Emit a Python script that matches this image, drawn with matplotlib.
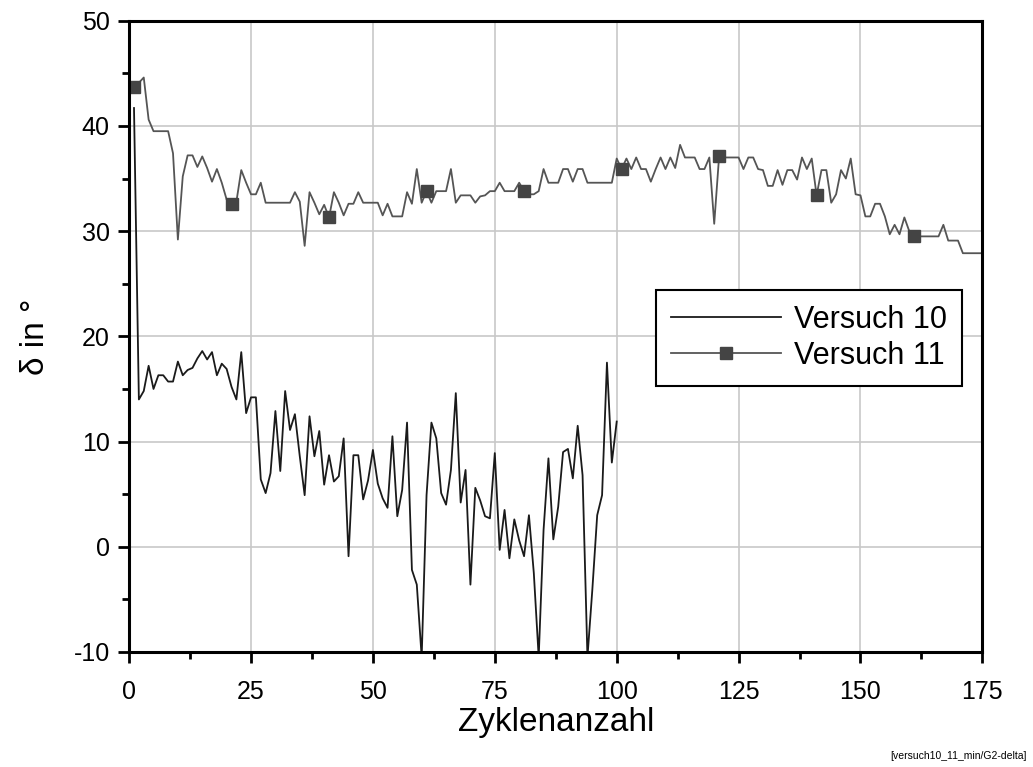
import numpy as np
import matplotlib
matplotlib.use("Agg")
import matplotlib.pyplot as plt
from matplotlib.ticker import MultipleLocator

plt.rcParams['font.family'] = ['Liberation Sans', 'DejaVu Sans']
plt.rcParams['axes.unicode_minus'] = False

# Versuch 10 (Zyklus 1..100)
versuch10 = [41.7, 14.0, 14.8, 17.2, 15.0, 16.3, 16.3, 15.7, 15.7, 17.6,
             16.3, 16.8, 17.0, 17.9, 18.6, 17.8, 18.5, 16.3, 17.4, 16.9,
             15.2, 14.0, 18.5, 12.7, 14.2, 14.2, 6.4, 5.1, 7.0, 12.9,
             7.2, 14.8, 11.1, 12.6, 8.6, 4.9, 12.4, 8.6, 11.0, 5.9,
             8.7, 6.2, 6.7, 10.3, -0.9, 8.7, 8.7, 4.5, 6.3, 9.2,
             6.0, 4.6, 3.7, 10.5, 2.9, 5.4, 11.8, -2.2, -3.6, -10.5,
             4.9, 11.8, 10.3, 5.1, 4.0, 7.3, 14.6, 4.2, 7.3, -3.6,
             5.6, 4.4, 2.9, 2.7, 8.9, -0.3, 3.5, -1.1, 2.6, 0.6,
             -0.9, 3.0, -2.5, -10.5, 1.6, 8.4, 0.7, 3.8, 9.0, 9.3,
             6.5, 11.5, 6.8, -10.5, -4.1, 3.0, 4.9, 17.5, 8.0, 11.9]

# Versuch 11 (Zyklus 1..175)
versuch11 = [43.7, 44.1, 44.6, 40.6, 39.5, 39.5, 39.5, 39.5, 37.4, 29.2,
             35.2, 37.2, 37.2, 36.1, 37.1, 36.0, 34.7, 35.9, 34.6, 33.0,
             32.6, 32.8, 35.8, 34.6, 33.5, 33.5, 34.6, 32.7, 32.7, 32.7,
             32.7, 32.7, 32.7, 33.7, 32.8, 28.6, 33.7, 32.7, 31.6, 32.5,
             31.3, 33.7, 32.7, 31.5, 32.6, 32.6, 33.7, 32.7, 32.7, 32.7,
             32.7, 31.5, 32.6, 31.4, 31.4, 31.4, 33.7, 32.6, 35.9, 32.7,
             33.8, 32.7, 33.8, 33.8, 33.8, 35.9, 32.7, 33.4, 33.4, 33.4,
             32.7, 33.3, 33.4, 33.8, 33.8, 34.6, 33.8, 33.8, 33.8, 34.6,
             33.8, 33.5, 33.5, 33.8, 35.9, 34.6, 34.6, 34.6, 35.9, 35.9,
             34.7, 35.9, 35.9, 34.6, 34.6, 34.6, 34.6, 34.6, 34.6, 36.9,
             35.9, 36.9, 35.9, 37.0, 35.9, 35.9, 34.7, 35.9, 37.0, 35.9,
             37.0, 36.0, 38.2, 37.0, 37.0, 37.0, 35.9, 35.9, 37.0, 30.7,
             37.1, 37.0, 37.0, 37.0, 37.0, 35.9, 37.0, 37.0, 35.9, 35.8,
             34.3, 34.3, 35.8, 34.4, 35.8, 35.8, 34.9, 37.0, 35.9, 36.9,
             33.4, 35.8, 35.8, 32.7, 33.5, 35.8, 35.0, 36.9, 33.5, 33.4,
             31.4, 31.4, 32.6, 32.6, 31.4, 29.7, 30.6, 29.7, 31.3, 30.0,
             29.5, 29.5, 29.5, 29.5, 29.5, 29.5, 30.6, 29.1, 29.1, 29.1,
             27.9, 27.9, 27.9, 27.9, 27.9]

x10 = np.arange(1, len(versuch10) + 1)
x11 = np.arange(1, len(versuch11) + 1)

fig = plt.figure(figsize=(10.33, 7.67), dpi=100)
ax = fig.add_axes([0.125, 0.150, 0.826, 0.823])

ax.plot(x10, versuch10, color='#1a1a1a', lw=1.3, label='Versuch 10')
ax.plot(x11, versuch11, color='#555555', lw=1.3, marker='s', markersize=9,
        markevery=20, markerfacecolor='#444444', markeredgecolor='#444444',
        label='Versuch 11')

ax.set_xlim(0, 175)
ax.set_ylim(-10, 50)
ax.xaxis.set_major_locator(MultipleLocator(25))
ax.xaxis.set_minor_locator(MultipleLocator(12.5))
ax.yaxis.set_major_locator(MultipleLocator(10))
ax.yaxis.set_minor_locator(MultipleLocator(5))
ax.grid(True, which='major', color='#c8c8c8', lw=1.2)
ax.set_axisbelow(True)

for s in ax.spines.values():
    s.set_linewidth(2.2)
ax.tick_params(which='major', direction='out', length=8, width=2,
               labelsize=18)
ax.tick_params(axis='x', which='major', pad=12)
ax.tick_params(axis='y', which='major', pad=6)
ax.tick_params(which='minor', direction='out', length=5, width=2)

ax.set_xlabel('Zyklenanzahl', fontsize=24, labelpad=2)
ax.set_ylabel('δ in °', fontsize=24, labelpad=16)

leg = ax.legend(loc='upper right', bbox_to_anchor=(0.976, 0.574), fontsize=22,
                fancybox=False, framealpha=1, edgecolor='black',
                handlelength=3.6, borderpad=0.5, labelspacing=0.2,
                handletextpad=0.4, borderaxespad=0)
leg.get_frame().set_linewidth(1.5)

fig.text(0.994, 0.008, '[versuch10_11_min/G2-delta]', fontsize=7.5,
         ha='right', va='bottom')

fig.savefig('out.png', dpi=100)
